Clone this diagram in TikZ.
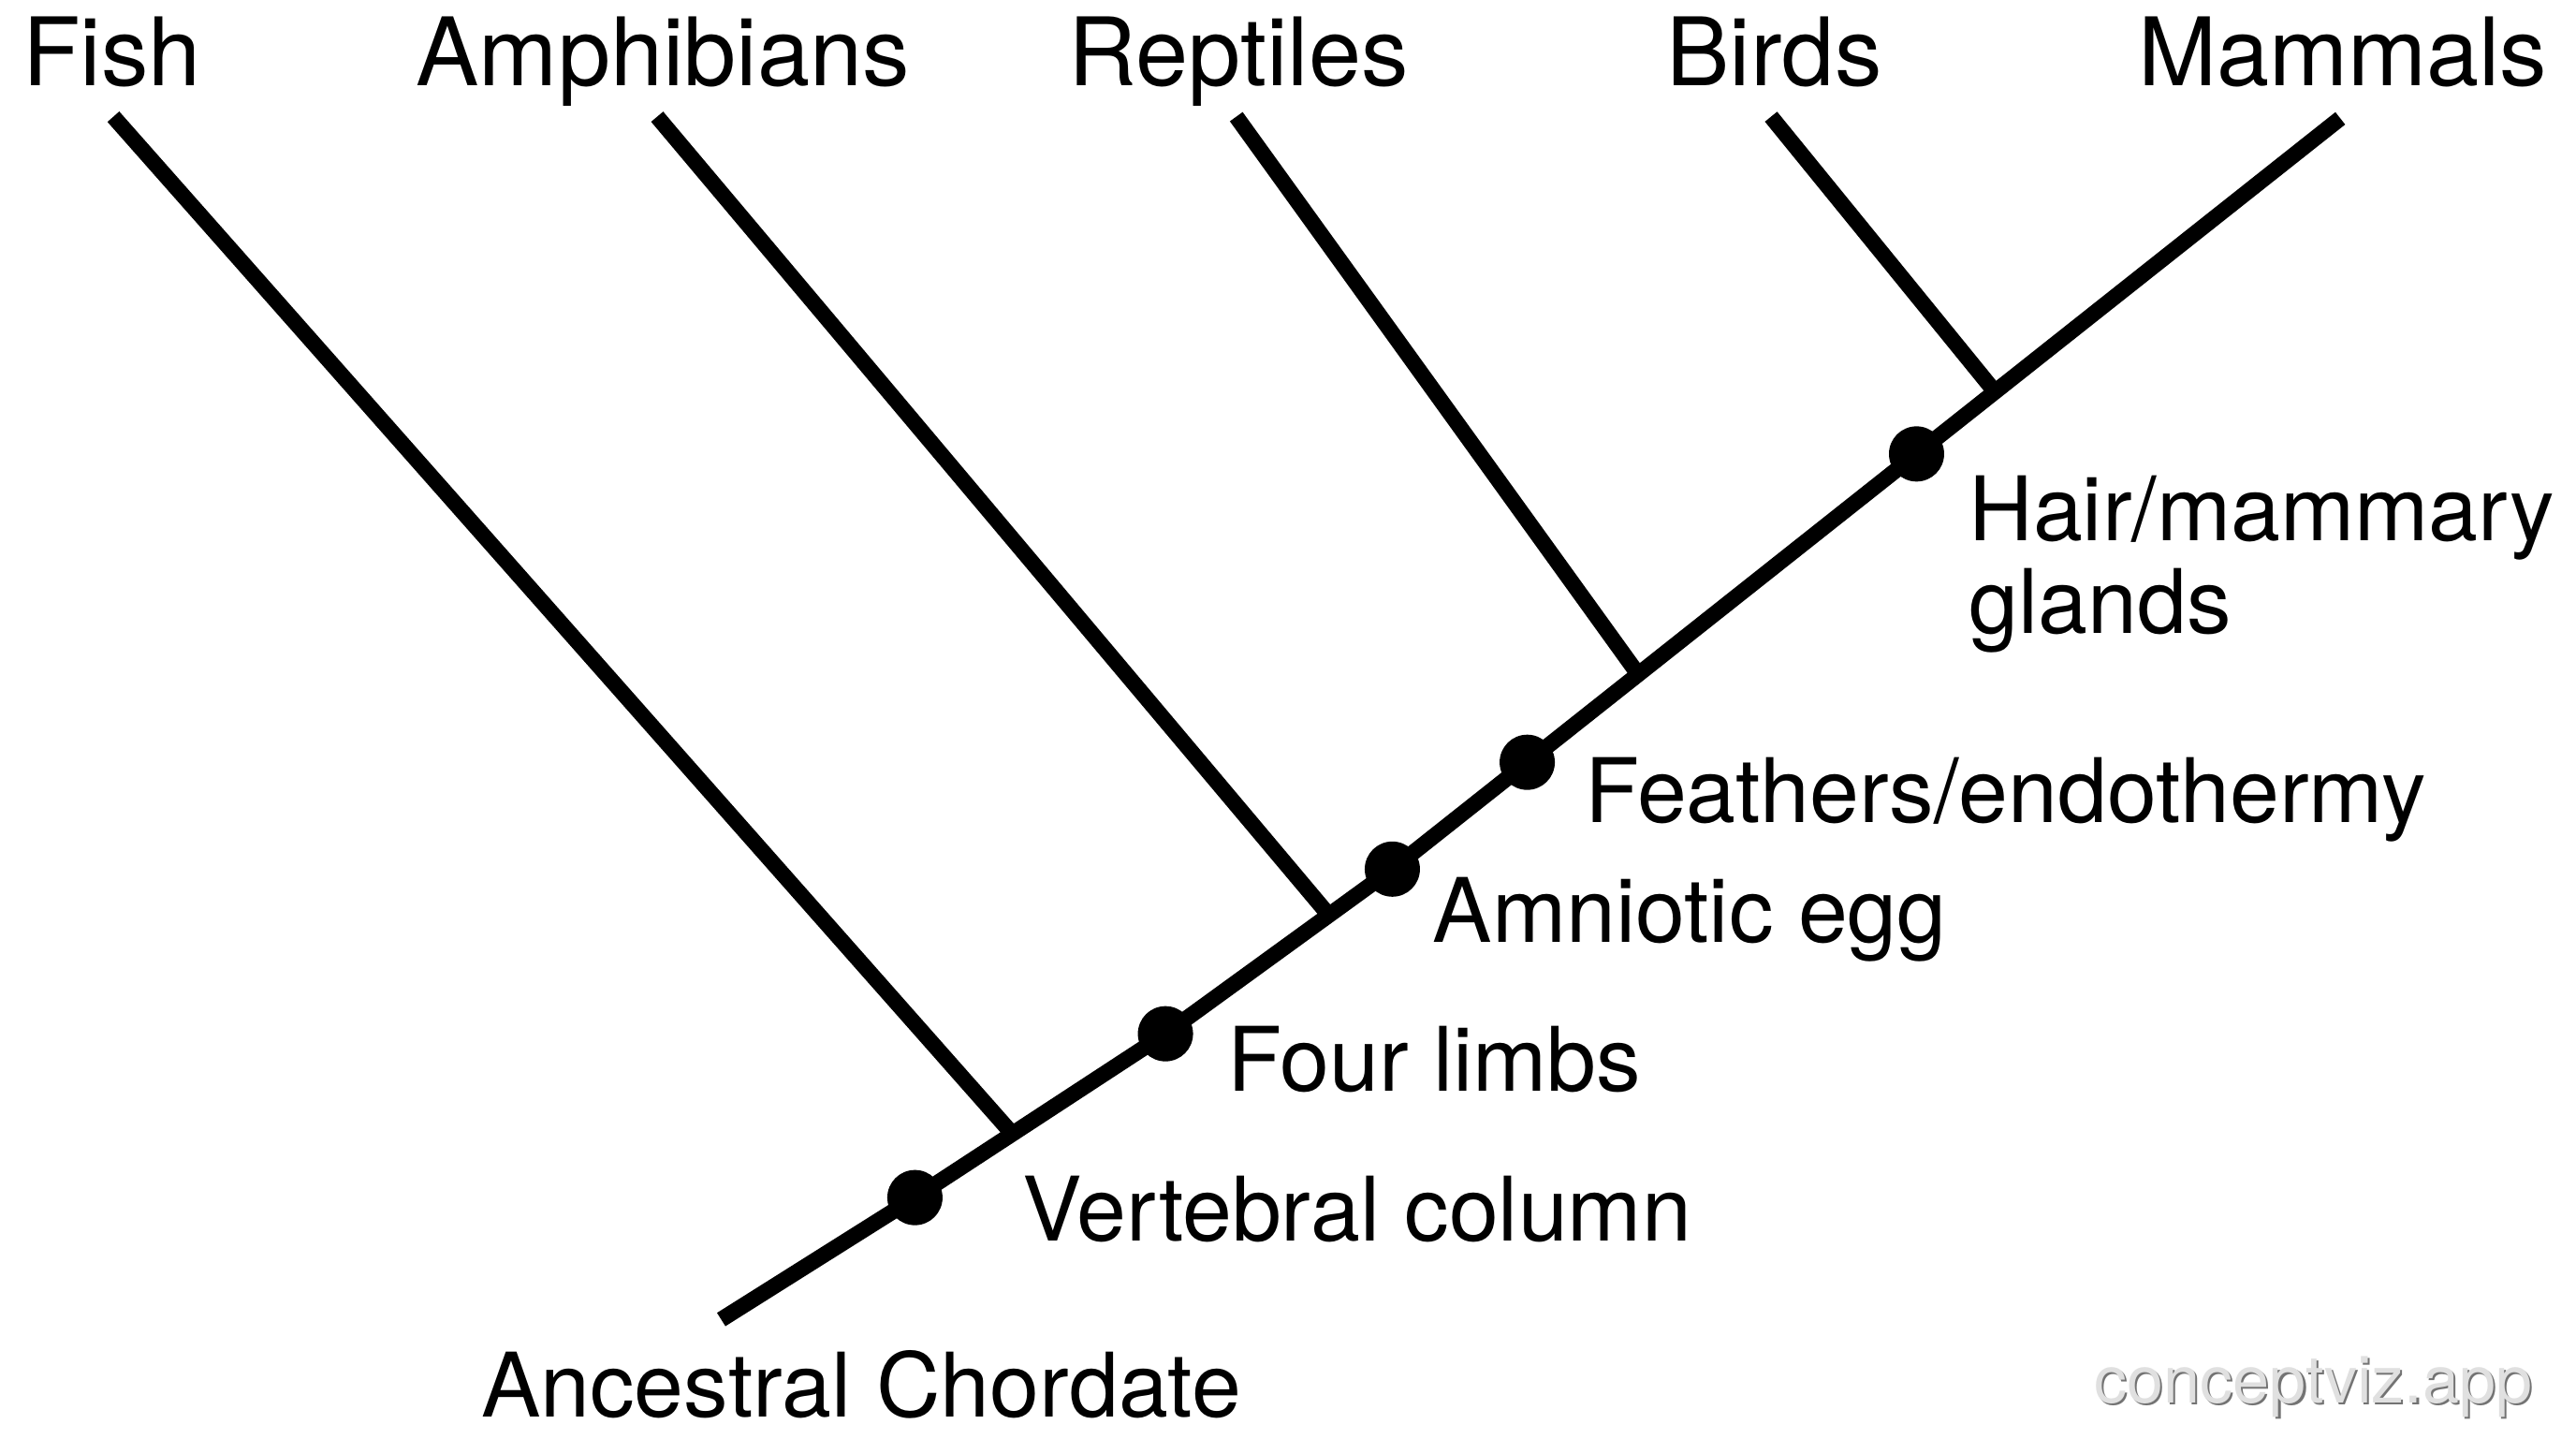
\documentclass[tikz,border=0pt]{standalone}
\usepackage{fontspec}
\setmainfont{TeX Gyre Heros}
\usetikzlibrary{calc}
\begin{document}
\begin{tikzpicture}[x=0.5pt,y=-0.5pt,
  branch/.style={line width=4.8pt, line cap=butt, line join=round},
  dot/.style={circle, fill=black, inner sep=0pt, minimum size=16.8pt},
  lab/.style={inner sep=0pt, font=\fontsize{28.75pt}{28.3pt}\selectfont, text=black},
  charlab/.style={inner sep=0pt, font=\fontsize{27.1pt}{28.3pt}\selectfont, text=black},
  wm/.style={inner sep=0pt, font=\fontsize{20pt}{24pt}\selectfont},
  ]
\useasboundingbox (0,0) rectangle (1568,875.16);
\fill[white] (0,0) rectangle (1568,875.16);

% main lineage coordinates
\coordinate (root) at (439,803);
\coordinate (c1) at (556.9,728.8);
\coordinate (c2) at (709.4,629.1);
\coordinate (c3) at (847.5,528.9);
\coordinate (top) at (1424.5,72);
\coordinate (c4) at ($(c3)!0.1423!(top)$);
\coordinate (c5) at ($(c3)!0.553!(top)$);
% branching points
\coordinate (j1) at ($(c1)!0.389!(c2)$);
\coordinate (j2) at ($(c2)!0.7205!(c3)$);
\coordinate (j3) at ($(c3)!0.2594!(top)$);
\coordinate (j4) at ($(c3)!0.6357!(top)$);
% branch tips
\coordinate (fishtip) at (69,71);
\coordinate (amphtip) at (400,71);
\coordinate (repttip) at (752.5,71);
\coordinate (birdtip) at (1078,71);

% taxon labels
\node[lab, anchor=base] (fish) at (68,52.2) {Fish};
\node[lab, anchor=base] (amph) at (403.5,52.2) {Amphibians};
\node[lab, anchor=base] (rept) at (754,52.2) {Reptiles};
\node[lab, anchor=base] (bird) at (1080,52.2) {Birds};
\node[lab, anchor=base] (mamm) at (1426,52.2) {Mammals};

% tree
\draw[branch] (root) -- (c1) -- (c2) -- (c3) -- (top);
\draw[branch] (fishtip) -- (j1);
\draw[branch] (amphtip) -- (j2);
\draw[branch] (repttip) -- (j3);
\draw[branch] (birdtip) -- (j4);

% character dots
\node[dot] (d1) at (c1) {};
\node[dot] (d2) at (c2) {};
\node[dot] (d3) at (c3) {};
\node[dot] (d4) at (c4) {};
\node[dot] (d5) at (c5) {};

% character labels
\node[charlab, anchor=base west, align=left] (hair) at (1198,385.6) {Hair/mammary\\glands};
\node[charlab, anchor=base west] (feat) at (964.3,500.5) {Feathers/endothermy};
\node[charlab, anchor=base west] (amni) at (871.8,573.2) {Amniotic egg};
\node[charlab, anchor=base west] (four) at (746.6,664.2) {Four limbs};
\node[charlab, anchor=base west] (vert) at (622,755) {Vertebral column};
\node[charlab, anchor=base west] (anc) at (292.5,862.3) {Ancestral Chordate};

% watermark
\node[wm, anchor=base west, text=black!55] (wms) at (1275.7,855) {conceptviz.app};
\node[wm, anchor=base west, text=black!12] (wmt) at (1274.5,853.6) {conceptviz.app};
\end{tikzpicture}
\end{document}
